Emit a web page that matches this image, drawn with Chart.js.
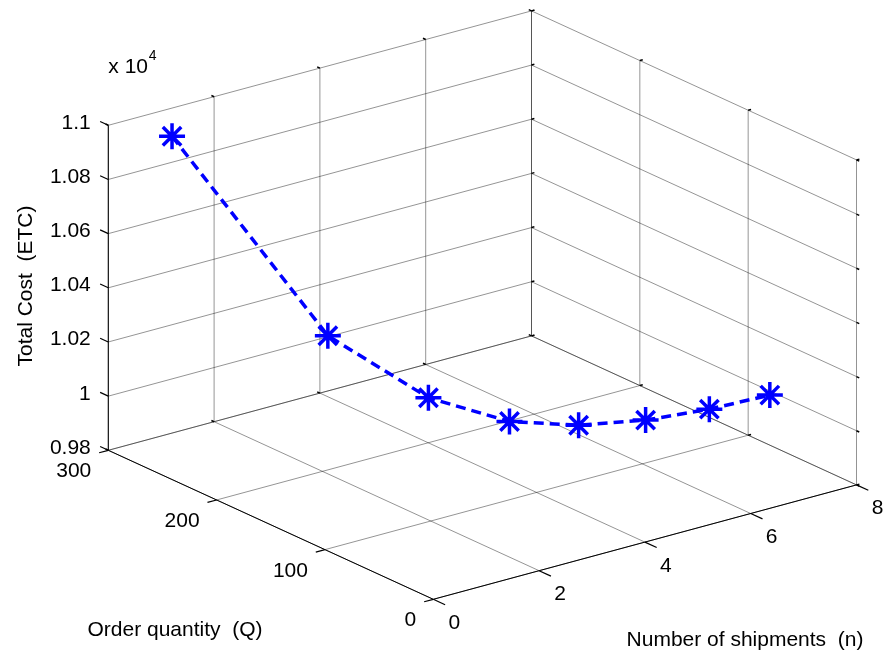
<!DOCTYPE html>
<html lang="en">
<head>
<meta charset="UTF-8">
<title>Total cost vs number of shipments and order quantity</title>
<script src="https://cdn.jsdelivr.net/npm/chart.js"></script>
<style>
    html, body { margin: 0; padding: 0; background: #fff; }
    #wrap { width: 888px; height: 652px; }
</style>
</head>
<body>
<div id="wrap"><canvas id="chart" width="888" height="652"></canvas></div>
<script>
    // values
    const shipments = [1, 2, 3, 4, 5, 6, 7, 8];
    const orderQty = [290, 195, 151, 125, 110, 97, 87, 80];
    const totalCost = [10925, 10310, 10109, 10016, 9977, 9967, 9973, 9985];

    // ticks of the three axes
    const nTicks = [0, 2, 4, 6, 8];
    const qTicks = [0, 100, 200, 300];
    const zTicks = [9800, 10000, 10200, 10400, 10600, 10800, 11000];
    const zTickLabels = ['0.98', '1', '1.02', '1.04', '1.06', '1.08', '1.1'];

    const nRange = [0, 8], qRange = [0, 300], zRange = [9800, 11000];

    // screen position of the box corner (n min, Q min, z min) and the box edges
    const origin = { x: 433.3, y: 599.3 };
    const nEdge = { x: 423.2, y: -114.4 };
    const qEdge = { x: -325.0, y: -149.0 };
    const zEdge = { x: 0, y: -325.0 };

    function proj(n, q, z) {
        const fn = (n - nRange[0]) / (nRange[1] - nRange[0]);
        const fq = (q - qRange[0]) / (qRange[1] - qRange[0]);
        const fz = (z - zRange[0]) / (zRange[1] - zRange[0]);
        return {
            x: origin.x + fn * nEdge.x + fq * qEdge.x + fz * zEdge.x,
            y: origin.y + fn * nEdge.y + fq * qEdge.y + fz * zEdge.y
        };
    }

    const FONT = '"Liberation Sans", Arial, Helvetica, sans-serif';

    function unit(v) {
        const l = Math.hypot(v.x, v.y);
        return { x: v.x / l, y: v.y / l };
    }

    // box, grid, ticks and labels drawn with the chart's own scales
    const box3d = {
        id: 'box3d',
        beforeDatasetsDraw(chart) {
            const ctx = chart.ctx;
            const sx = chart.scales.x, sy = chart.scales.y;
            const P = (n, q, z) => {
                const p = proj(n, q, z);
                return { x: sx.getPixelForValue(p.x), y: sy.getPixelForValue(p.y) };
            };
            const line = (a, b, color, w) => {
                ctx.beginPath();
                ctx.strokeStyle = color;
                ctx.lineWidth = w;
                ctx.moveTo(a.x, a.y);
                ctx.lineTo(b.x, b.y);
                ctx.stroke();
            };
            const tick = (p, dir, len, w) => {
                line(p, { x: p.x + dir.x * len, y: p.y + dir.y * len }, '#000', w);
            };
            const [n0, n1] = nRange, [q0, q1] = qRange, [z0, z1] = zRange;
            const grid = 'rgba(0,0,0,0.42)';

            ctx.save();
            // floor
            nTicks.forEach(n => line(P(n, q0, z0), P(n, q1, z0), grid, 1));
            qTicks.forEach(q => line(P(n0, q, z0), P(n1, q, z0), grid, 1));
            // back-left wall (Q = max)
            nTicks.forEach(n => line(P(n, q1, z0), P(n, q1, z1), grid, 1));
            zTicks.forEach(z => line(P(n0, q1, z), P(n1, q1, z), grid, 1));
            // back-right wall (n = max)
            qTicks.forEach(q => line(P(n1, q, z0), P(n1, q, z1), grid, 1));
            zTicks.forEach(z => line(P(n1, q0, z), P(n1, q1, z), grid, 1));

            // axis lines
            line(P(n0, q0, z0), P(n1, q0, z0), '#000', 1);
            line(P(n0, q0, z0), P(n0, q1, z0), '#000', 1);
            line(P(n0, q1, z0), P(n0, q1, z1), '#000', 1);

            const dirQ = unit(qEdge);
            const dirN = unit(nEdge);
            const outQ = dirQ, inQ = { x: -dirQ.x, y: -dirQ.y };
            const outN = { x: -dirN.x, y: -dirN.y };

            // main ticks
            nTicks.forEach(n => tick(P(n, q0, z0), inQ, 13, 1.2));
            qTicks.forEach(q => tick(P(n0, q, z0), outN, 9.5, 1.2));
            zTicks.forEach(z => tick(P(n0, q1, z), outQ, 9, 1.2));
            // small ticks at the far ends
            nTicks.forEach(n => {
                tick(P(n, q1, z0), outQ, 3, 1.5);
                tick(P(n, q1, z1), outQ, 3, 1.5);
            });
            qTicks.forEach(q => {
                tick(P(n1, q, z0), dirN, 3, 1.5);
                tick(P(n1, q, z1), dirN, 3, 1.5);
            });
            zTicks.forEach(z => {
                tick(P(n1, q0, z), inQ, 3, 1.5);
                tick(P(n1, q1, z), dirN, 3, 1.5);
            });

            // tick labels
            ctx.fillStyle = '#000';
            ctx.font = '21px ' + FONT;
            ctx.textBaseline = 'alphabetic';
            ctx.textAlign = 'right';
            zTicks.forEach((z, i) => {
                const p = P(n0, q1, z);
                ctx.fillText(zTickLabels[i], p.x - 17.5, p.y + 3.5);
            });
            qTicks.forEach(q => {
                const p = P(n0, q, z0);
                ctx.fillText(String(q), p.x - 17, p.y + 27);
            });
            ctx.textAlign = 'center';
            nTicks.forEach(n => {
                const p = P(n, q0, z0);
                ctx.fillText(String(n), p.x + 21, p.y + 29.5);
            });

            // exponent
            const top = P(n0, q1, z1);
            ctx.textAlign = 'left';
            ctx.fillText('x 10', top.x, top.y - 52);
            ctx.font = '14px ' + FONT;
            ctx.fillText('4', top.x + 40.5, top.y - 65);

            // axis titles
            ctx.font = '21px ' + FONT;
            ctx.textAlign = 'center';
            ctx.fillText('Order quantity  (Q)', 175, 636);
            ctx.fillText('Number of shipments  (n)', 745, 645.5);
            ctx.save();
            ctx.translate(32, 286);
            ctx.rotate(-Math.PI / 2);
            ctx.fillText('Total Cost  (ETC)', 0, 0);
            ctx.restore();
            ctx.restore();
        }
    };

    const points = shipments.map((n, i) => proj(n, orderQty[i], totalCost[i]));

    new Chart(document.getElementById('chart'), {
        type: 'scatter',
        data: {
            datasets: [{
                label: 'ETC',
                data: points,
                showLine: true,
                clip: false,
                borderColor: '#0000ff',
                borderWidth: 3.5,
                borderDash: [10, 6],
                tension: 0,
                pointStyle: 'star',
                pointRadius: 13,
                pointBorderWidth: 3.5,
                pointBorderColor: '#0000ff',
                pointBackgroundColor: '#0000ff'
            }]
        },
        options: {
            responsive: false,
            animation: false,
            events: [],
            layout: { padding: 0, autoPadding: false },
            scales: {
                x: { type: 'linear', min: 0, max: 888, display: false },
                y: { type: 'linear', min: 0, max: 652, reverse: true, display: false }
            },
            plugins: {
                legend: { display: false },
                tooltip: { enabled: false }
            }
        },
        plugins: [box3d]
    });
</script>
</body>
</html>
